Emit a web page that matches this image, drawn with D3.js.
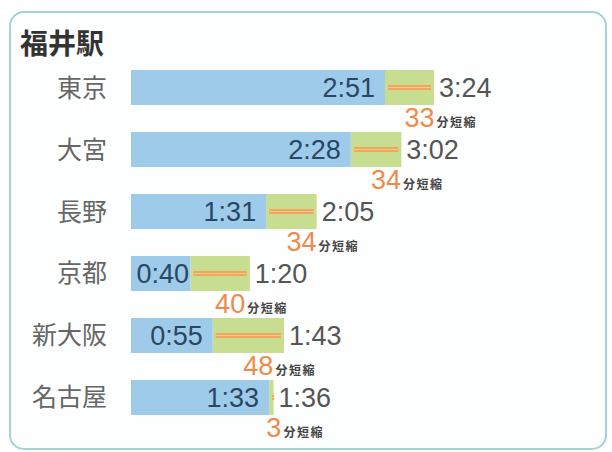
<!DOCTYPE html>
<html>
<head>
<meta charset="utf-8">
<script src="https://cdn.jsdelivr.net/npm/d3@7"></script>
<style>
  body { margin: 0; background: #fff; }
  text { font-family: "Noto Sans CJK JP", "Noto Sans", sans-serif; }
  .num { font-family: "Liberation Sans", Arial, sans-serif; }
</style>
</head>
<body>
<div id="chart"></div>
<script>
// 福井駅からの所要時間 (北陸新幹線延伸後 / 現在)
const stations = ["東京", "大宮", "長野", "京都", "新大阪", "名古屋"];
const newTimes = ["2:51", "2:28", "1:31", "0:40", "0:55", "1:33"];
const oldTimes = ["3:24", "3:02", "2:05", "1:20", "1:43", "1:36"];
const savedMinutes = [33, 34, 34, 40, 48, 3];

const width = 612;
const height = 452;

// "h:mm" -> minutes
function toMinutes(s) {
    const p = s.split(":");
    return (+p[0]) * 60 + (+p[1]);
}

const data = stations.map(function(d, i) {
    return {
        name: d,
        newLabel: newTimes[i],
        oldLabel: oldTimes[i],
        newMin: toMinutes(newTimes[i]),
        oldMin: toMinutes(oldTimes[i]),
        saved: savedMinutes[i]
    };
});

const svg = d3.select("#chart")
    .append("svg")
    .attr("width", width)
    .attr("height", height);

// frame
svg.append("rect")
    .attr("x", 10)
    .attr("y", 12)
    .attr("width", 596)
    .attr("height", 437)
    .attr("rx", 14)
    .attr("fill", "#fdfefe")
    .attr("stroke", "#a3d5d0")
    .attr("stroke-width", 2);

svg.append("text")
    .attr("x", 20)
    .attr("y", 54)
    .attr("font-size", 28)
    .attr("font-weight", "bold")
    .attr("fill", "#333")
    .text("福井駅");

// Scales
const xScale = d3.scaleLinear()
    .domain([0, d3.max(data, function(d) { return d.oldMin; })])
    .range([131, 434]);

const yScale = d3.scaleBand()
    .domain(stations)
    .range([70, 415])
    .paddingInner(0.435)
    .paddingOuter(0);

const bh = yScale.bandwidth();

const row = svg.selectAll("g.row")
    .data(data)
    .enter()
    .append("g")
    .attr("class", "row")
    .attr("transform", function(d) { return `translate(0,${yScale(d.name)})`; });

// station labels
row.append("text")
    .attr("x", 107)
    .attr("y", bh / 2)
    .attr("dy", "0.36em")
    .attr("text-anchor", "end")
    .attr("font-size", 25)
    .attr("fill", "#666")
    .text(function(d) { return d.name; });

// old time (green) behind new time (blue)
row.append("rect")
    .attr("x", function(d) { return xScale(d.newMin); })
    .attr("width", function(d) { return xScale(d.oldMin) - xScale(d.newMin); })
    .attr("height", bh)
    .attr("fill", "#c7dd8f");

row.append("rect")
    .attr("x", xScale(0))
    .attr("width", function(d) { return xScale(d.newMin) - xScale(0); })
    .attr("height", bh)
    .attr("fill", "#9ecbea");

// orange line in the saved part
row.append("line")
    .attr("x1", function(d) { return xScale(d.newMin) + 3; })
    .attr("x2", function(d) { return Math.max(xScale(d.oldMin) - 3, xScale(d.newMin) + 5); })
    .attr("y1", bh / 2)
    .attr("y2", bh / 2)
    .attr("stroke", "#f1a65e")
    .attr("stroke-width", 5);

row.append("line")
    .attr("x1", function(d) { return xScale(d.newMin) + 3; })
    .attr("x2", function(d) { return Math.max(xScale(d.oldMin) - 3, xScale(d.newMin) + 5); })
    .attr("y1", bh / 2)
    .attr("y2", bh / 2)
    .attr("stroke", "#f6c98a")
    .attr("stroke-width", 1.2);

// new time inside blue
row.append("text")
    .attr("class", "num")
    .attr("x", function(d) { return Math.max(xScale(d.newMin) - 10, xScale(0) + 58); })
    .attr("y", bh / 2)
    .attr("dy", "0.36em")
    .attr("text-anchor", "end")
    .attr("font-size", 27)
    .attr("fill", "#2a4762")
    .text(function(d) { return d.newLabel; });

// old time after green
row.append("text")
    .attr("class", "num")
    .attr("x", function(d) { return xScale(d.oldMin) + 5; })
    .attr("y", bh / 2)
    .attr("dy", "0.36em")
    .attr("font-size", 27)
    .attr("fill", "#555")
    .text(function(d) { return d.oldLabel; });

// saved minutes
const saved = row.append("text")
    .attr("x", function(d) { return (xScale(d.newMin) + xScale(d.oldMin)) / 2 - 5; })
    .attr("y", bh + 22);

saved.append("tspan")
    .attr("class", "num")
    .attr("font-size", 27)
    .attr("fill", "#f08a4b")
    .text(function(d) { return d.saved; });

saved.append("tspan")
    .attr("dx", 2)
    .attr("font-size", 12)
    .attr("font-weight", "bold")
    .attr("letter-spacing", 1.5)
    .attr("fill", "#444")
    .text("分短縮");
</script>
</body>
</html>
